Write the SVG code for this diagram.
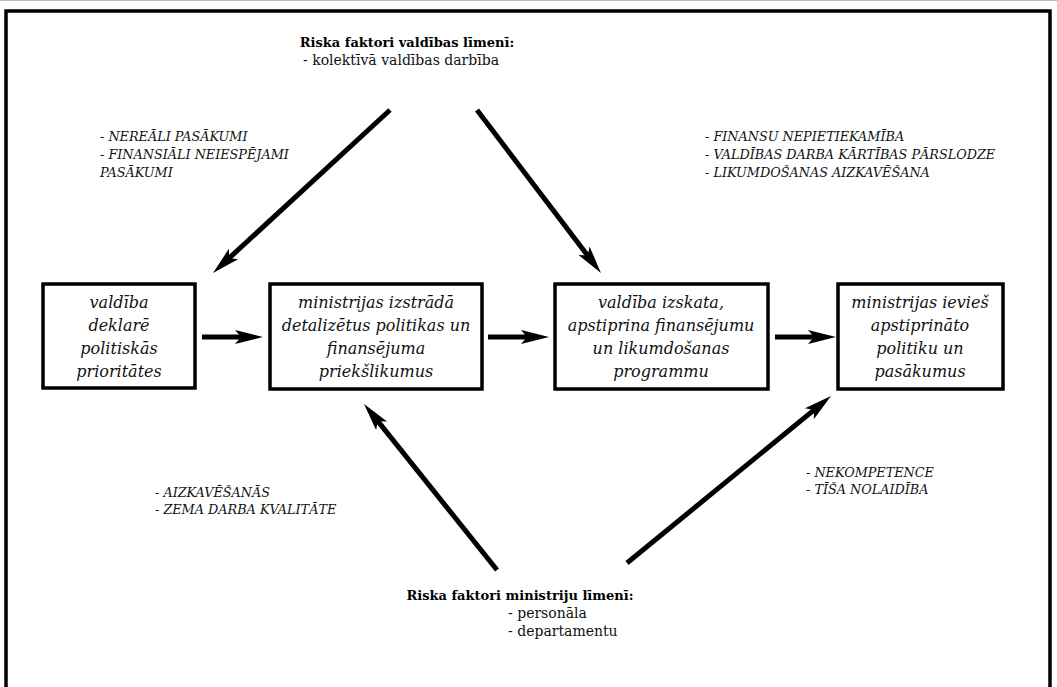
<svg xmlns="http://www.w3.org/2000/svg" width="1057" height="687" viewBox="0 0 1057 687">
<defs>
<marker id="ah" markerWidth="30" markerHeight="16" refX="14" refY="7" orient="auto" markerUnits="userSpaceOnUse">
<path d="M0,0 L28,7 L0,14 L6,7 Z" fill="#000"/>
</marker>
<style>
.box{fill:#fff;stroke:#000;stroke-width:3.5}
.bt{font-family:"DejaVu Serif","Liberation Serif",serif;font-style:italic;font-size:16px;text-anchor:middle;fill:#111}
.lbl{font-family:"DejaVu Serif","Liberation Serif",serif;font-style:italic;font-size:12.8px;fill:#111}
.hd{font-family:"DejaVu Serif","Liberation Serif",serif;font-weight:bold;font-size:13px;text-anchor:middle;fill:#000}
.sub{font-family:"DejaVu Serif","Liberation Serif",serif;font-size:14px;fill:#111}
.con{stroke:#000;stroke-width:5;fill:none;marker-end:url(#ah)}
</style>
</defs>
<rect width="1057" height="687" fill="#fff"/>
<line x1="0" y1="0.5" x2="1057" y2="0.5" stroke="#bbb" stroke-width="1"/>
<path d="M6,690 V11 H1050 V690" fill="none" stroke="#000" stroke-width="3.5"/>

<g id="top-risks">
<text class="hd" x="407" y="47">Riska faktori valdības līmenī:</text>
<text class="sub" x="303" y="65">- kolektīvā valdības darbība</text>
</g>
<g id="label-upper-left">
<text class="lbl" x="100" y="141">- NEREĀLI PASĀKUMI</text>
<text class="lbl" x="100" y="159">- FINANSIĀLI NEIESPĒJAMI</text>
<text class="lbl" x="100" y="177">PASĀKUMI</text>
</g>
<g id="label-upper-right">
<text class="lbl" x="705" y="141">- FINANSU NEPIETIEKAMĪBA</text>
<text class="lbl" x="705" y="159">- VALDĪBAS DARBA KĀRTĪBAS PĀRSLODZE</text>
<text class="lbl" x="705" y="177">- LIKUMDOŠANAS AIZKAVĒŠANA</text>
</g>

<g id="n1">
<rect class="box" x="43" y="284" width="152" height="104"/>
<text class="bt" x="119" y="308">valdība</text>
<text class="bt" x="119" y="331">deklarē</text>
<text class="bt" x="119" y="354">politiskās</text>
<text class="bt" x="119" y="377">prioritātes</text>
</g>
<g id="n2">
<rect class="box" x="270" y="284" width="212" height="105"/>
<text class="bt" x="376" y="308">ministrijas izstrādā</text>
<text class="bt" x="376" y="331">detalizētus politikas un</text>
<text class="bt" x="376" y="354">finansējuma</text>
<text class="bt" x="376" y="377">priekšlikumus</text>
</g>
<g id="n3">
<rect class="box" x="555" y="284" width="213" height="105"/>
<text class="bt" x="661" y="308">valdība izskata,</text>
<text class="bt" x="661" y="331">apstiprina finansējumu</text>
<text class="bt" x="661" y="354">un likumdošanas</text>
<text class="bt" x="661" y="377">programmu</text>
</g>
<g id="n4">
<rect class="box" x="838" y="284" width="165" height="105"/>
<text class="bt" x="920" y="308">ministrijas ievieš</text>
<text class="bt" x="920" y="331">apstiprināto</text>
<text class="bt" x="920" y="354">politiku un</text>
<text class="bt" x="920" y="377">pasākumus</text>
</g>

<g id="label-lower-left">
<text class="lbl" x="155" y="497">- AIZKAVĒŠANĀS</text>
<text class="lbl" x="155" y="514">- ZEMA DARBA KVALITĀTE</text>
</g>
<g id="label-lower-right">
<text class="lbl" x="806" y="477">- NEKOMPETENCE</text>
<text class="lbl" x="806" y="494">- TĪŠA NOLAIDĪBA</text>
</g>
<g id="bottom-risks">
<text class="hd" x="520" y="600">Riska faktori ministriju līmenī:</text>
<text class="sub" x="508" y="618">- personāla</text>
<text class="sub" x="508" y="636">- departamentu</text>
</g>

<g id="connectors">
<line class="con" x1="202" y1="337" x2="249" y2="337"/>
<line class="con" x1="488" y1="337" x2="535" y2="337"/>
<line class="con" x1="775" y1="337" x2="822" y2="337"/>
<line class="con" x1="390" y1="110" x2="223.3" y2="263.5"/>
<line class="con" x1="477" y1="110" x2="592.5" y2="261.9"/>
<line class="con" x1="497" y1="570" x2="372.8" y2="414.9"/>
<line class="con" x1="627" y1="563" x2="820.2" y2="404.9"/>
</g>
</svg>
